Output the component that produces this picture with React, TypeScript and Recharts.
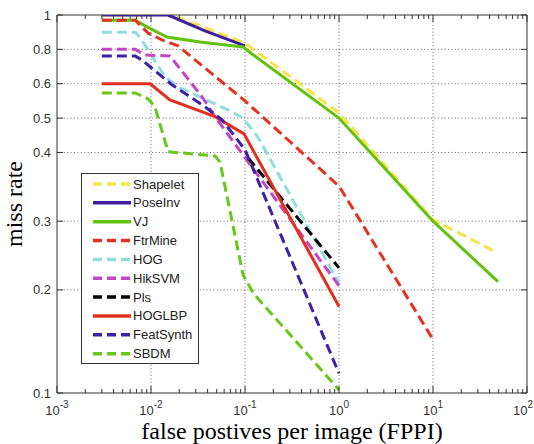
import React from 'react';
import { LineChart, Line, XAxis, YAxis, ReferenceLine, Legend } from 'recharts';

// Miss rate vs. false positives per image.
const SHAPELET_FPPI = [0.003, 0.0167, 0.1, 1, 10, 45.7];
const SHAPELET_MR = [1, 1, 0.837, 0.515, 0.302, 0.256];

const POSEINV_FPPI = [0.003, 0.0152, 0.0375, 0.1];
const POSEINV_MR = [1, 1, 0.907, 0.82];

const VJ_FPPI = [0.003, 0.0068, 0.0095, 0.0148, 0.0332, 0.0953, 0.119, 1, 10, 49.1];
const VJ_MR = [0.97, 0.97, 0.925, 0.872, 0.843, 0.814, 0.773, 0.5, 0.3, 0.212];

const FTRMINE_FPPI = [0.003, 0.0068, 0.0093, 0.0131, 0.0194, 0.1, 1, 10];
const FTRMINE_MR = [0.97, 0.97, 0.895, 0.855, 0.82, 0.55, 0.351, 0.152];

const HOG_FPPI = [0.003, 0.0068, 0.0076, 0.0141, 0.0204, 0.0659, 0.0953, 0.137, 1];
const HOG_MR = [0.9, 0.9, 0.872, 0.64, 0.588, 0.524, 0.5, 0.445, 0.21];

const HIKSVM_FPPI = [0.003, 0.0068, 0.0086, 0.0159, 0.0349, 0.048, 1];
const HIKSVM_MR = [0.8, 0.8, 0.767, 0.762, 0.562, 0.504, 0.206];

const PLS_FPPI = [0.108, 1];
const PLS_MR = [0.392, 0.232];

const HOGLBP_FPPI = [0.003, 0.0098, 0.0159, 0.048, 0.0976, 1];
const HOGLBP_MR = [0.6, 0.6, 0.553, 0.504, 0.454, 0.184];

const FEATSYNTH_FPPI = [0.003, 0.0068, 0.008, 0.0167, 0.0375, 0.0569, 0.1, 1];
const FEATSYNTH_MR = [0.762, 0.762, 0.738, 0.597, 0.533, 0.495, 0.408, 0.119];

const SBDM_FPPI = [0.003, 0.0068, 0.0093, 0.011, 0.0152, 0.048, 0.0542, 0.0953, 0.122, 1];
const SBDM_MR = [0.573, 0.573, 0.556, 0.533, 0.402, 0.395, 0.386, 0.222, 0.197, 0.103];

// The y axis of the figure is not a true log axis: its labelled ticks sit on
// these breakpoints of a linear axis, and values in between are interpolated.
const Y_TICK_LABELS = [1, 0.8, 0.6, 0.5, 0.4, 0.3, 0.2, 0.1];
const Y_TICK_BREAKS = [0, 1, 2, 3, 4, 6, 8, 11];

const X_DECADES = [-3, -2, -1, 0, 1, 2];

const W = 534;
const H = 444;
const M = { top: 15, right: 7, left: 7, bottom: 0 };
const PLOT_TOP = M.top;
const PLOT_RIGHT = W - M.right;
const AXIS = '#333';
const TICK_FONT = '"Liberation Sans", Arial, sans-serif';
const SERIF = '"Liberation Serif", "Times New Roman", serif';

function yPos(v: number) {
  for (let i = 0; i < Y_TICK_LABELS.length - 1; i++) {
    const hi = Y_TICK_LABELS[i];
    const lo = Y_TICK_LABELS[i + 1];
    if (v <= hi && v >= lo) {
      const t = (hi - v) / (hi - lo);
      return Y_TICK_BREAKS[i] + t * (Y_TICK_BREAKS[i + 1] - Y_TICK_BREAKS[i]);
    }
  }
  return v > 1 ? 0 : 11;
}

const toRows = (xs: number[], ys: number[]) => xs.map((x, i) => ({ x, y: yPos(ys[i]) }));

const SERIES = [
  { name: 'Shapelet', data: toRows(SHAPELET_FPPI, SHAPELET_MR), color: '#f7e34a', dash: '10 5' },
  { name: 'PoseInv', data: toRows(POSEINV_FPPI, POSEINV_MR), color: '#3d1f9e', dash: undefined },
  { name: 'VJ', data: toRows(VJ_FPPI, VJ_MR), color: '#62c20e', dash: undefined },
  { name: 'FtrMine', data: toRows(FTRMINE_FPPI, FTRMINE_MR), color: '#e3321f', dash: '10 5' },
  { name: 'HOG', data: toRows(HOG_FPPI, HOG_MR), color: '#8fdede', dash: '10 5' },
  { name: 'HikSVM', data: toRows(HIKSVM_FPPI, HIKSVM_MR), color: '#c445c4', dash: '10 5' },
  { name: 'Pls', data: toRows(PLS_FPPI, PLS_MR), color: '#000000', dash: '10 5' },
  { name: 'HOGLBP', data: toRows(HOGLBP_FPPI, HOGLBP_MR), color: '#e3301c', dash: undefined },
  { name: 'FeatSynth', data: toRows(FEATSYNTH_FPPI, FEATSYNTH_MR), color: '#3d20a6', dash: '10 5' },
  { name: 'SBDM', data: toRows(SBDM_FPPI, SBDM_MR), color: '#66c81a', dash: '10 5' },
];

// decades plus the 2..9 minor ticks
const X_TICKS: number[] = [];
X_DECADES.forEach((d) => {
  X_TICKS.push(Math.pow(10, d));
  if (d < 2) for (let k = 2; k <= 9; k++) X_TICKS.push(k * Math.pow(10, d));
});

function XTick(props: any) {
  const { x, y, payload } = props;
  const lg = Math.log10(payload.value);
  const major = Math.abs(lg - Math.round(lg)) < 1e-6;
  const len = major ? 7 : 4;
  // keep the last label inside the picture
  const lx = x + 10 > W ? W - 11 : x;
  return (
    <g>
      <line x1={x} y1={y} x2={x} y2={y - len} stroke={AXIS} />
      <line x1={x} y1={PLOT_TOP} x2={x} y2={PLOT_TOP + len} stroke={AXIS} />
      {major && (
        <text x={lx} y={y + 22} textAnchor="middle" fontSize={13} fill="#333" fontFamily={TICK_FONT}>
          10
          <tspan dy={-7} fontSize={10}>
            {Math.round(lg)}
          </tspan>
        </text>
      )}
    </g>
  );
}

function YTick(props: any) {
  const { x, y, payload } = props;
  const idx = Y_TICK_BREAKS.indexOf(payload.value);
  return (
    <g>
      <line x1={x} y1={y} x2={x + 6} y2={y} stroke={AXIS} />
      <line x1={PLOT_RIGHT} y1={y} x2={PLOT_RIGHT - 6} y2={y} stroke={AXIS} />
      <text x={x - 6} y={y} dy={4.5} textAnchor="end" fontSize={13} fill="#333" fontFamily={TICK_FONT}>
        {Y_TICK_LABELS[idx]}
      </text>
    </g>
  );
}

function LegendBox() {
  return (
    <svg width={118} height={191} style={{ display: 'block' }}>
      <rect x={0.5} y={0.5} width={117} height={190} fill="#fff" stroke={AXIS} />
      {SERIES.map((s, i) => {
        const cy = 11 + i * 18.85;
        return (
          <g key={s.name}>
            <line x1={12} x2={50} y1={cy} y2={cy} stroke={s.color} strokeWidth={3.5} strokeDasharray={s.dash ? '9 5' : undefined} />
            <text x={52} y={cy} dy={4.5} fontSize={13} fill="#222" fontFamily={TICK_FONT}>
              {s.name}
            </text>
          </g>
        );
      })}
    </svg>
  );
}

const GRID = { stroke: '#666', strokeDasharray: '1 2.4', strokeWidth: 1 };

export default function App() {
  return (
    <div style={{ position: 'absolute', left: 0, top: 0, width: W, height: H, background: '#fff' }}>
      <LineChart width={W} height={H} margin={M}>
        <XAxis
          dataKey="x"
          type="number"
          scale="log"
          domain={[0.001, 100]}
          allowDataOverflow
          ticks={X_TICKS}
          interval={0}
          tick={<XTick />}
          tickLine={false}
          tickSize={0}
          tickMargin={0}
          height={51}
          stroke={AXIS}
          label={{
            value: 'false postives per image (FPPI)',
            position: 'insideBottom',
            offset: 5,
            style: { fontFamily: SERIF, fontSize: 24, fill: '#000' },
          }}
        />
        <YAxis
          type="number"
          domain={[0, 11]}
          reversed
          allowDataOverflow
          ticks={Y_TICK_BREAKS}
          interval={0}
          tick={<YTick />}
          tickLine={false}
          tickSize={0}
          tickMargin={0}
          width={50}
          stroke={AXIS}
          label={{
            value: 'miss rate',
            angle: -90,
            position: 'insideLeft',
            offset: 6,
            style: { textAnchor: 'middle', fontFamily: SERIF, fontSize: 24, fill: '#000' },
          }}
        />
        {X_DECADES.slice(1, -1).map((d) => (
          <ReferenceLine key={d} x={Math.pow(10, d)} {...GRID} />
        ))}
        {Y_TICK_BREAKS.slice(1, -1).map((b) => (
          <ReferenceLine key={b} y={b} {...GRID} />
        ))}
        <ReferenceLine y={0} stroke={AXIS} />
        <ReferenceLine x={100} stroke={AXIS} />
        {SERIES.map((s) => (
          <Line
            key={s.name}
            data={s.data}
            dataKey="y"
            name={s.name}
            type="linear"
            stroke={s.color}
            strokeWidth={3}
            strokeDasharray={s.dash}
            dot={false}
            activeDot={false}
            isAnimationActive={false}
          />
        ))}
        <Legend
          layout="vertical"
          align="center"
          verticalAlign="middle"
          wrapperStyle={{ left: 81, top: 173, width: 118, height: 191 }}
          content={() => <LegendBox />}
        />
      </LineChart>
    </div>
  );
}
